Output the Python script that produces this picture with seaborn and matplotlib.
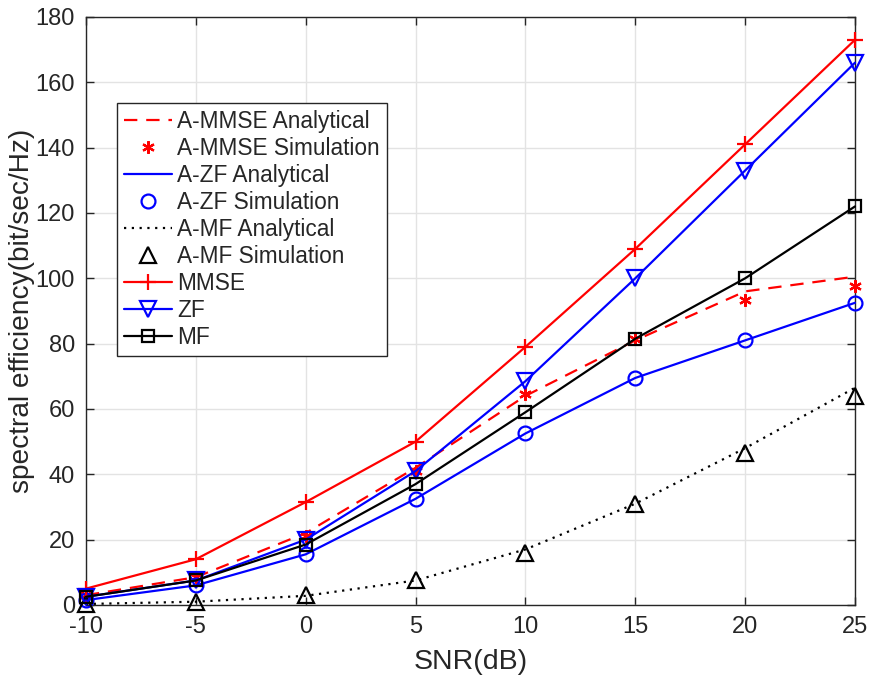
import numpy as np
import pandas as pd
import matplotlib
matplotlib.use("Agg")
import matplotlib.pyplot as plt
import seaborn as sns

snr = [-10, -5, 0, 5, 10, 15, 20, 25]

a_mmse_analytical = [3.0, 8.5, 22.0, 42.0, 64.0, 81.0, 96.0, 100.5]
a_mmse_simulation = [3.0, 8.5, 21.0, 41.0, 64.5, 81.5, 93.5, 97.5]
a_zf_analytical = [1.5, 6.0, 15.5, 32.5, 52.5, 69.5, 81.0, 92.5]
a_zf_simulation = [1.5, 6.0, 15.5, 32.5, 52.5, 69.5, 81.0, 92.5]
a_mf_analytical = [0.3, 1.0, 2.8, 7.5, 17.0, 31.0, 48.0, 66.5]
a_mf_simulation = [0.3, 1.0, 3.0, 7.5, 16.0, 31.0, 46.5, 64.0]
mmse = [5.0, 14.0, 31.5, 50.0, 79.0, 109.0, 141.0, 173.0]
zf = [2.5, 7.5, 20.0, 41.0, 68.5, 100.0, 133.0, 166.0]
mf = [2.5, 7.5, 18.5, 37.0, 59.0, 81.5, 100.0, 122.0]

sns.set_theme(style="white")
plt.rcParams["font.family"] = ["Liberation Sans", "DejaVu Sans"]
plt.rcParams["axes.unicode_minus"] = False

fig = plt.figure(figsize=(8.71, 6.77), dpi=100)
ax = fig.add_axes([0.0987, 0.1064, 0.8829, 0.8685])

asterisk = (6, 2, 0)
series = [
    ("A-MMSE Analytical", a_mmse_analytical, dict(color="#ff0000", linestyle=(0, (6, 4)), marker=None)),
    ("A-MMSE Simulation", a_mmse_simulation, dict(color="#ff0000", linestyle="none", marker=asterisk, markersize=9)),
    ("A-ZF Analytical", a_zf_analytical, dict(color="#0000ff", linestyle="-", marker=None)),
    ("A-ZF Simulation", a_zf_simulation, dict(color="#0000ff", linestyle="none", marker="o", markersize=10)),
    ("A-MF Analytical", a_mf_analytical, dict(color="#000000", linestyle=(0, (1, 2.5)), marker=None)),
    ("A-MF Simulation", a_mf_simulation, dict(color="#000000", linestyle="none", marker="^", markersize=11)),
    ("MMSE", mmse, dict(color="#ff0000", linestyle="-", marker="+", markersize=12)),
    ("ZF", zf, dict(color="#0000ff", linestyle="-", marker="v", markersize=11)),
    ("MF", mf, dict(color="#000000", linestyle="-", marker="s", markersize=8)),
]

for name, vals, style in series:
    df = pd.DataFrame({"snr": snr, "se": vals})
    kw = dict(style)
    mk = kw.pop("marker")
    ms = kw.pop("markersize", 8)
    ls = kw.pop("linestyle")
    sns.lineplot(data=df, x="snr", y="se", ax=ax, label=name, color=kw["color"],
                 linestyle=ls, linewidth=1.6, marker=mk, markersize=ms,
                 markerfacecolor="none", markeredgecolor=kw["color"],
                 markeredgewidth=1.6, zorder=3, clip_on=False)

ax.set_xlim(-10, 25)
ax.set_ylim(0, 180)
ax.set_xticks(np.arange(-10, 26, 5))
ax.set_yticks(np.arange(0, 181, 20))
ax.grid(True, color="#e3e3e3", linewidth=1.0, zorder=0)
ax.set_axisbelow(True)
for sp in ax.spines.values():
    sp.set_color("#262626")
    sp.set_linewidth(1.0)
ax.tick_params(direction="in", length=6, width=1.0, color="#262626",
               labelsize=17, labelcolor="#262626", top=True, right=True,
               bottom=True, left=True, pad=8)
ax.set_xlabel("SNR(dB)", fontsize=20.5, color="#262626", labelpad=8)
ax.set_ylabel("spectral efficiency(bit/sec/Hz)", fontsize=20.2, color="#262626", labelpad=0)

leg = ax.legend(loc="upper left", bbox_to_anchor=(0.041, 0.853), fontsize=16.3,
                frameon=True, fancybox=False, edgecolor="#262626", framealpha=1,
                handlelength=2.1, handletextpad=0.25, labelspacing=0.175,
                borderpad=0.3, borderaxespad=0)
leg.get_frame().set_linewidth(1.0)

fig.savefig("out.png", dpi=100)
